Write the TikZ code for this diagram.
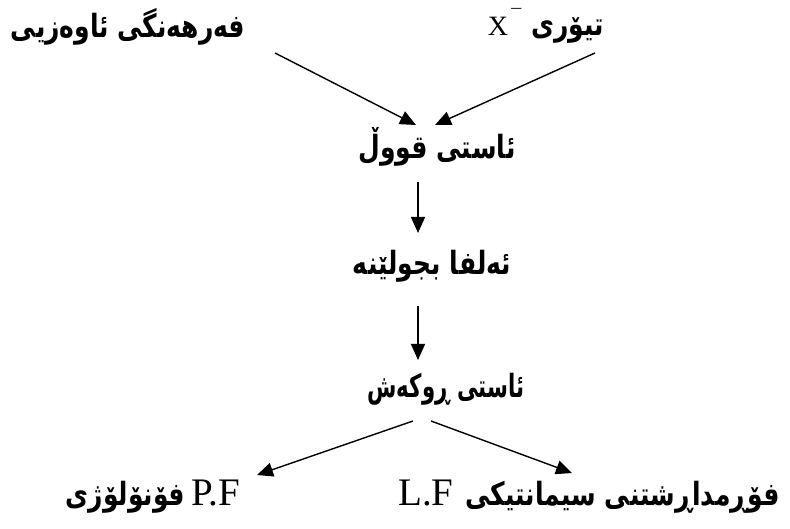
\documentclass[tikz,border=0pt]{standalone}
\usepackage{fontspec}
\usepackage{graphicx}
\setmainfont{Liberation Serif}
\newfontfamily\arfont[Script=Arabic]{DejaVu Sans}
\TeXXeTstate=1
\usetikzlibrary{arrows.meta}
\newcommand{\artx}[2][1]{\scalebox{#1}[1.28]{\arfont\bfseries\fontsize{25}{28}\selectfont\beginR #2\endR}}
\newcommand{\lattx}[2]{{\fontsize{#1}{#1}\selectfont #2}}
\tikzset{
  txt/.style={inner sep=0pt},
  conn/.style={line width=1.4pt, -{Triangle[length=16pt,width=14pt]}}
}
\begin{document}
\begin{tikzpicture}[x=1pt,y=-1pt]
\useasboundingbox (0,0) rectangle (790,529);
% nodes
\node[txt] (lex) at (128,27) {\artx{فەرهەنگی ئاوەزیی}};
\node[txt] (xbar) at (546,26) {\lattx{28}{X\raisebox{0.42em}{\fontsize{20}{20}\selectfont\,¯}}\hspace{10pt}\artx{تیۆری}};
\node[txt] (deep) at (437,147) {\artx{ئاستی قووڵ}};
\node[txt] (alpha) at (432,266) {\artx{ئەلفا بجولێنە}};
\node[txt] (surf) at (446,389) {\artx[0.85]{ئاستی ڕوکەش}};
\node[txt] (pf) at (153,497) {\artx{فۆنۆلۆژی}\hspace{6pt}\lattx{39}{P.F}};
\node[txt] (lf) at (589,497) {\lattx{39}{L.F}\hspace{12pt}\artx{فۆڕمداڕشتنی سیمانتیکی}};
% connector ends
\coordinate (a1s) at (275,53);  \coordinate (a1e) at (416,125);
\coordinate (a2s) at (595,53);  \coordinate (a2e) at (435,125);
\coordinate (a3s) at (418,182); \coordinate (a3e) at (418,233);
\coordinate (a4s) at (418,306); \coordinate (a4e) at (418,360);
\coordinate (a5s) at (413,421); \coordinate (a5e) at (257,475);
\coordinate (a6s) at (431,421); \coordinate (a6e) at (572,473);
\draw[conn] (a1s) -- (a1e);
\draw[conn] (a2s) -- (a2e);
\draw[conn] (a3s) -- (a3e);
\draw[conn] (a4s) -- (a4e);
\draw[conn] (a5s) -- (a5e);
\draw[conn] (a6s) -- (a6e);
\end{tikzpicture}
\end{document}
